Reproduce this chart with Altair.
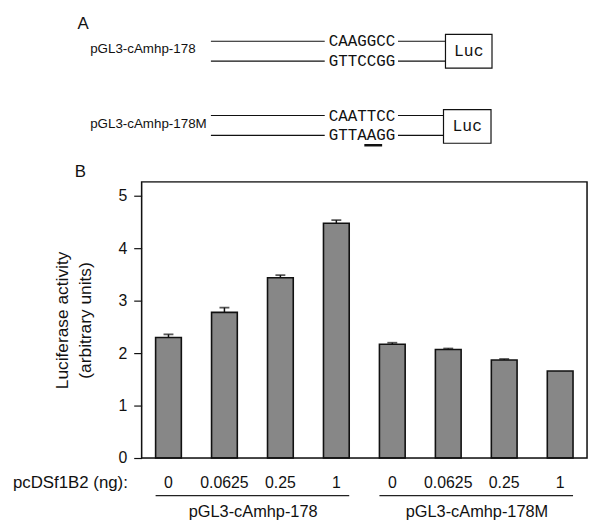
import altair as alt
import pandas as pd

# ---------------- data ----------------
group_names = ["pGL3-cAmhp-178", "pGL3-cAmhp-178M"]
dose_labels = ["0", "0.0625", "0.25", "1"]
activity = [2.30, 2.78, 3.44, 4.48, 2.17, 2.07, 1.87, 1.66]
sem = [0.06, 0.09, 0.05, 0.06, 0.03, 0.02, 0.02, 0.0]
y_ticks = [0, 1, 2, 3, 4, 5]
dose_caption = "pcDSf1B2 (ng):"
y_title = ["Luciferase activity", "(arbitrary units)"]

construct_names = ["pGL3-cAmhp-178", "pGL3-cAmhp-178M"]
top_strand = ["CAAGGCC", "CAATTCC"]
bottom_strand = ["GTTCCGG", "GTTAAGG"]
reporter = "Luc"
panel_letters = ["A", "B"]

# ---------------- tables ----------------
rows = []
for gi, g in enumerate(group_names):
    for di, d in enumerate(dose_labels):
        i = gi * 4 + di
        rows.append({"cat": f"{g}|{d}", "group": g, "dose": d,
                     "value": activity[i], "upper": activity[i] + sem[i],
                     "has_err": sem[i] > 0})
bars_df = pd.DataFrame(rows)
cats = list(bars_df["cat"])
err_df = bars_df[bars_df["has_err"]]

groups_df = pd.DataFrame({
    "group": group_names,
    "first": [cats[0], cats[4]],
    "last": [cats[3], cats[7]],
    "mid": [cats[1], cats[5]],
})

W, H = 450, 279
FONT = "Liberation Sans"
MONO = "Liberation Mono"

xscale = alt.Scale(domain=cats, paddingInner=0.54, paddingOuter=0.25)
yscale = alt.Scale(domain=[0, 5.27], nice=False, zero=True)

base = alt.Chart(bars_df)

bars = base.mark_bar(color="#878787", stroke="#111", strokeWidth=1.6).encode(
    x=alt.X("cat:N", scale=xscale, sort=cats, axis=None),
    y=alt.Y("value:Q", scale=yscale,
            axis=alt.Axis(values=y_ticks, title=y_title, domain=False,
                          grid=False, tickSize=8, tickColor="#111", tickWidth=1.2,
                          labelFont=FONT, labelFontSize=16, labelColor="#111",
                          labelPadding=7,
                          titleFont=FONT, titleFontSize=17.5, titleFontWeight="normal",
                          titleColor="#111", titleAngle=-90, titleX=-71, titleY=H / 2,
                          titleAlign="center", titleBaseline="bottom",
                          titleLineHeight=23)),
)

err_rule = alt.Chart(err_df).mark_rule(color="#111", strokeWidth=1.5).encode(
    x=alt.X("cat:N", scale=xscale, sort=cats, axis=None),
    y=alt.Y("value:Q", scale=yscale),
    y2="upper:Q",
)
err_cap = alt.Chart(err_df).mark_tick(color="#111", thickness=1.8, size=10).encode(
    x=alt.X("cat:N", scale=xscale, sort=cats, axis=None),
    y=alt.Y("upper:Q", scale=yscale),
)

frame = alt.Chart(pd.DataFrame({"k": [0]})).mark_rect(
    fillOpacity=0, stroke="#111", strokeWidth=1.5
).encode(x=alt.value(0), x2=alt.value(W), y=alt.value(0), y2=alt.value(H))

dose_text = base.mark_text(font=FONT, fontSize=16, color="#111", baseline="middle").encode(
    x=alt.X("cat:N", scale=xscale, sort=cats, axis=None),
    y=alt.value(H + 25),
    text="dose:N",
)

caption = alt.Chart(pd.DataFrame({"t": [dose_caption]})).mark_text(
    font=FONT, fontSize=17, color="#111", align="left", baseline="middle"
).encode(x=alt.value(-130), y=alt.value(H + 25), text="t:N")

under = alt.Chart(groups_df).mark_rule(color="#222", strokeWidth=1.2).encode(
    x=alt.X("first:N", scale=xscale, sort=cats, axis=None, bandPosition=0),
    x2=alt.X2("last:N", bandPosition=1),
    y=alt.value(H + 38),
)

group_text = alt.Chart(groups_df).mark_text(
    font=FONT, fontSize=16.5, color="#111", baseline="middle", dx=29
).encode(
    x=alt.X("mid:N", scale=xscale, sort=cats, axis=None),
    y=alt.value(H + 55),
    text="group:N",
)

plot = alt.layer(bars, err_rule, err_cap, frame, dose_text, caption, under, group_text)

# ---------------- panel A diagram (layout in pixel offsets from plot origin) ----------------
strand_y = [(-142, -122), (-67, -47)]
label_y = [-134, -58]
box_x = [(307, 354), (305, 353)]
box_y = [(-149, -115), (-73, -39)]

line_rows, text_rows, box_rows = [], [], []
for k in range(2):
    for y, seq in zip(strand_y[k], [top_strand[k], bottom_strand[k]]):
        line_rows.append({"x": 70, "x2": 185, "y": y, "w": 1.1})
        line_rows.append({"x": 259, "x2": box_x[k][0], "y": y, "w": 1.1})
        text_rows.append({"x": 189, "y": y, "t": seq, "font": MONO, "size": 16, "align": "left"})
    text_rows.append({"x": -52, "y": label_y[k], "t": construct_names[k], "font": FONT, "size": 13.5, "align": "left"})
    box_rows.append({"x": box_x[k][0], "x2": box_x[k][1], "y": box_y[k][0], "y2": box_y[k][1]})
    text_rows.append({"x": (box_x[k][0] + box_x[k][1]) / 2, "y": (box_y[k][0] + box_y[k][1]) / 2,
                      "t": reporter, "font": MONO, "size": 16.5, "align": "center"})
# underline of mutated bases (AA)
line_rows.append({"x": 225, "x2": 243, "y": -37, "w": 2.5})
text_rows.append({"x": -59, "y": -159, "t": panel_letters[0], "font": FONT, "size": 17, "align": "center"})
text_rows.append({"x": -62, "y": -10, "t": panel_letters[1], "font": FONT, "size": 17, "align": "center"})

lines_df = pd.DataFrame(line_rows)
texts_df = pd.DataFrame(text_rows)
boxes_df = pd.DataFrame(box_rows)

diag_lines = alt.Chart(lines_df).mark_rule(color="#111").encode(
    x=alt.X("x:Q", scale=None, axis=None),
    x2="x2:Q",
    y=alt.Y("y:Q", scale=None, axis=None),
    strokeWidth=alt.StrokeWidth("w:Q", scale=None, legend=None),
)

diag_boxes = alt.Chart(boxes_df).mark_rect(fillOpacity=0, stroke="#111", strokeWidth=1.2).encode(
    x=alt.X("x:Q", scale=None, axis=None),
    x2="x2:Q",
    y=alt.Y("y:Q", scale=None, axis=None),
    y2="y2:Q",
)

text_layers = []
for (font, size, align), sub in texts_df.groupby(["font", "size", "align"]):
    text_layers.append(
        alt.Chart(sub).mark_text(font=font, fontSize=float(size), align=align,
                                 baseline="middle", color="#111").encode(
            x=alt.X("x:Q", scale=None, axis=None),
            y=alt.Y("y:Q", scale=None, axis=None),
            text="t:N",
        )
    )

diagram = alt.layer(diag_lines, diag_boxes, *text_layers)

chart = alt.layer(plot, diagram).resolve_scale(x="independent", y="independent").properties(
    width=W, height=H,
    autosize=alt.AutoSizeParams(type="none"),
    padding={"left": 135, "top": 173, "right": 2, "bottom": 64},
).configure_view(stroke=None).configure(background="white")

chart.save("out.html", embed_options={"renderer": "svg", "actions": False})
